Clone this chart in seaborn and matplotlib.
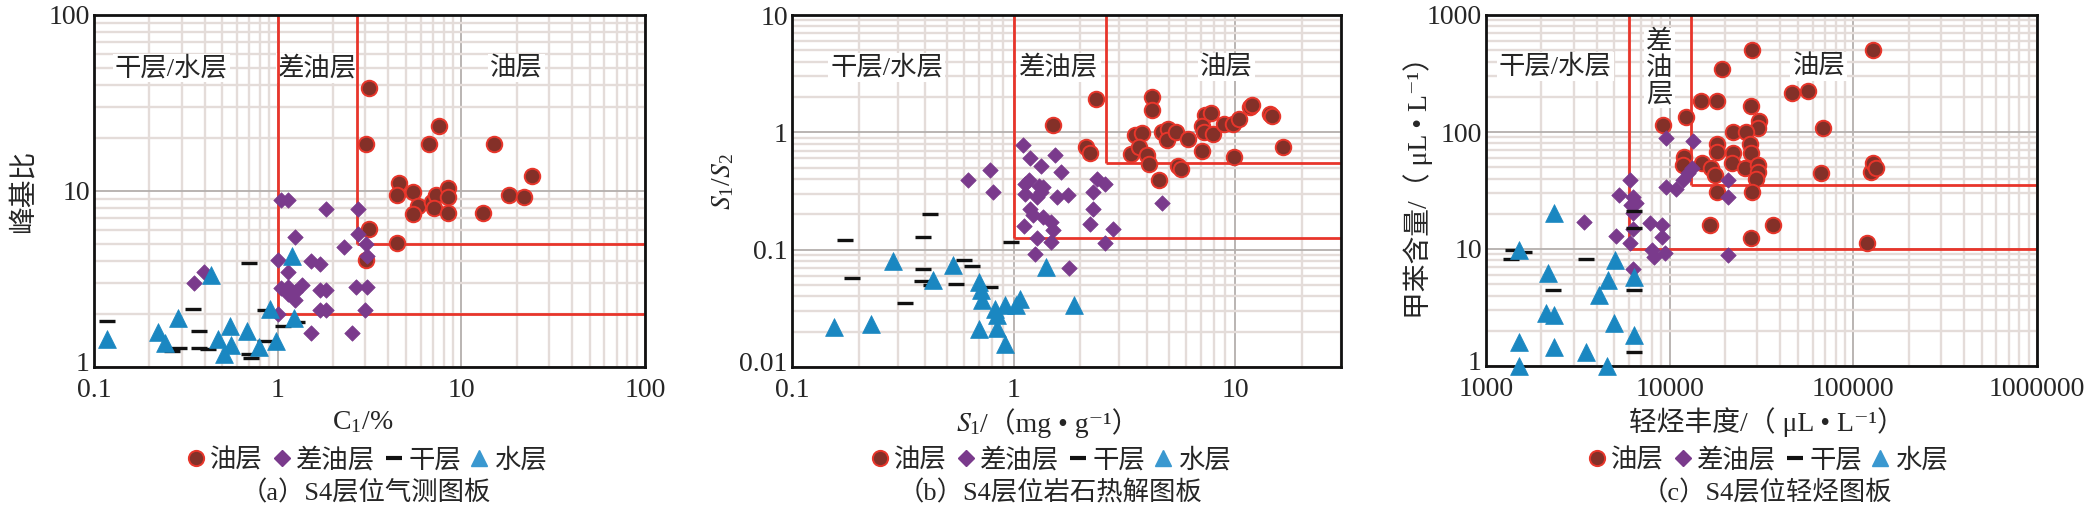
import matplotlib
matplotlib.use("Agg")
import matplotlib.pyplot as plt
from matplotlib.lines import Line2D
from matplotlib.ticker import LogLocator, NullFormatter, FixedLocator, FixedFormatter
from matplotlib.offsetbox import TextArea, HPacker, AnchoredOffsetbox
from matplotlib.transforms import ScaledTranslation
import seaborn as sns
import pandas as pd

# ---- panel (a): gas logging ----
a_oil_x = [3.13, 7.57, 3.04, 6.64, 15.0, 24.2, 4.6, 4.45, 5.43, 5.82, 5.43, 6.96, 7.27, 7.11,
           8.43, 8.43, 8.43, 13.2, 18.2, 21.9, 3.16, 4.45, 3.02]
a_oil_y = [38.6, 23.4, 18.4, 18.4, 18.4, 12.2, 11.1, 9.5, 9.9, 8.2, 7.4, 8.7, 9.5, 7.97,
           10.4, 9.3, 7.47, 7.47, 9.47, 9.27, 6.06, 5.08, 4.04]
a_poor_x = [1.04, 1.14, 1.84, 2.75, 1.24, 2.29, 2.75, 3.03, 3.07, 1.01, 1.51, 1.69, 1.14, 0.35,
            0.396, 1.04, 1.14, 1.24, 1.35, 1.14, 1.69, 1.84, 2.66, 3.07, 1.24, 1.69, 1.84, 2.99,
            1.01, 1.51, 2.55]
a_poor_y = [8.87, 8.87, 7.95, 7.95, 5.49, 4.81, 5.73, 5.03, 4.26, 4.04, 4.0, 3.87, 3.47, 3.0,
            3.47, 2.8, 2.85, 2.67, 2.91, 2.61, 2.73, 2.73, 2.85, 2.85, 2.39, 2.12, 2.12, 2.12,
            2.0, 1.56, 1.56]
a_dry_x = [0.118, 0.70, 0.344, 0.375, 0.266, 0.29, 0.375, 0.42, 0.855, 1.07, 1.27, 0.72, 0.70, 0.855]
a_dry_y = [1.82, 3.92, 2.13, 1.6, 1.23, 1.29, 1.29, 1.27, 2.1, 1.72, 1.8, 1.125, 1.18, 1.4]
a_water_x = [0.118, 0.224, 0.244, 0.287, 0.432, 0.475, 0.513, 0.548, 0.558, 0.68, 0.794, 0.906,
             0.975, 1.2, 1.22]
a_water_y = [1.45, 1.58, 1.36, 1.91, 3.35, 1.45, 1.19, 1.72, 1.33, 1.6, 1.3, 2.13, 1.4, 4.26, 1.91]
a_x_cut = [1.0, 2.7]
a_y_cut = [2.0, 5.0]

# ---- panel (b): rock pyrolysis ----
b_oil_x = [2.36, 4.2, 4.23, 1.5, 2.12, 2.2, 3.53, 3.78, 3.37, 3.68, 4.0, 4.07, 4.55, 4.65, 4.95,
           4.9, 5.4, 6.15, 5.5, 5.7, 7.06, 7.3, 7.75, 7.1, 7.2, 7.9, 8.9, 9.77, 10.4, 9.9, 11.6,
           11.9, 14.3, 14.7, 16.5]
b_oil_y = [1.94, 2.0, 1.54, 1.15, 0.75, 0.667, 0.942, 0.98, 0.657, 0.75, 0.637, 0.54, 0.39, 1.0,
           1.067, 0.86, 1.0, 0.88, 0.52, 0.49, 0.70, 1.4, 1.47, 1.13, 1.0, 0.96, 1.17, 1.18, 1.31,
           0.62, 1.64, 1.7, 1.44, 1.38, 0.75]
b_poor_x = [1.1, 1.18, 1.53, 1.33, 1.64, 0.78, 0.62, 0.81, 1.12, 1.17, 1.3, 1.35, 1.13, 1.27, 1.33,
            1.57, 1.76, 2.38, 2.58, 2.28, 1.19, 1.22, 1.36, 1.47, 1.5, 2.28, 1.11, 2.22, 2.8, 1.27,
            1.47, 2.58, 1.25, 4.65, 1.77]
b_poor_y = [0.774, 0.6, 0.637, 0.52, 0.46, 0.475, 0.39, 0.31, 0.36, 0.39, 0.35, 0.34, 0.30, 0.28,
            0.31, 0.28, 0.29, 0.40, 0.36, 0.31, 0.224, 0.196, 0.19, 0.172, 0.146, 0.22, 0.158,
            0.166, 0.15, 0.126, 0.117, 0.114, 0.092, 0.25, 0.07]
b_dry_x = [0.173, 0.42, 0.39, 0.186, 0.324, 0.39, 0.384, 0.425, 0.55, 0.6, 0.65, 0.78, 0.97]
b_dry_y = [0.12, 0.2, 0.128, 0.057, 0.035, 0.068, 0.054, 0.05, 0.051, 0.081, 0.073, 0.048, 0.116]
b_water_x = [0.155, 0.227, 0.286, 0.432, 0.53, 0.70, 0.71, 0.72, 0.82, 0.84, 0.91, 1.07, 1.03,
             0.70, 0.84, 0.91, 1.4, 1.87]
b_water_y = [0.022, 0.0234, 0.08, 0.0556, 0.074, 0.053, 0.0456, 0.037, 0.031, 0.0275, 0.034,
             0.038, 0.034, 0.021, 0.0215, 0.0158, 0.071, 0.0335]
b_x_cut = [1.0, 2.6]
b_y_cut = [0.126, 0.55]

# ---- panel (c): light hydrocarbon ----
c_oil_x = [28000, 128600, 19300, 14800, 18200, 46400, 56500, 27700, 9250, 12300, 30500, 30200,
           22200, 26200, 68700, 27300, 18200, 18100, 22200, 21800, 27700, 11900, 11800, 15000,
           16700, 17700, 25800, 30200, 30200, 29600, 18200, 28000, 66800, 125000, 127400, 133000,
           16600, 36500, 27700, 119000]
c_oil_y = [502, 502, 343, 185, 185, 214, 226, 167, 115, 135, 123, 109, 100.6, 100.6, 109, 79, 79,
           68, 65.7, 54, 65.7, 61.5, 52.3, 54, 48.9, 42.9, 48.9, 52.3, 45.7, 39.7, 30.9, 30.9,
           44.3, 45.7, 54, 48.9, 16, 16, 12.3, 11.3]
c_poor_x = [9500, 13400, 9500, 10800, 11800, 12650, 13150, 20800, 20700, 6080, 5280, 6350, 6180,
            6530, 6350, 3430, 7860, 9140, 9140, 5130, 6080, 6350, 8040, 9400, 8200, 20700, 6350]
c_poor_y = [88, 83.7, 34.1, 32.4, 38.9, 44.3, 48.9, 38.9, 27.7, 38.9, 29, 28.1, 23.8, 24.7, 20.2,
            17.1, 16.6, 16, 12.7, 12.8, 11.2, 14.9, 9.8, 9.2, 8.6, 8.9, 6.7]
c_dry_x = [1360, 1400, 1610, 3490, 2320, 6420, 6420, 6420, 6420]
c_dry_y = [8.2, 9.9, 9.4, 8.2, 4.5, 21.3, 15, 4.5, 1.33]
c_water_x = [2360, 1520, 2170, 2130, 2360, 1520, 1520, 2360, 3490, 4540, 5030, 4610, 4100, 5000,
             6420, 6420]
c_water_y = [20.2, 9.9, 6.2, 2.82, 2.73, 1.59, 1.0, 1.46, 1.33, 1.0, 8.05, 5.43, 4.04, 2.32, 5.8, 1.84]
c_x_cut = [6000, 13000]
c_y_cut = [10, 35]

classes = ["油层", "差油层", "干层", "水层"]

OIL_FACE = "#843028"
OIL_EDGE = "#e8362b"
POOR = "#7a3a8c"
WATER = "#1a87c1"
RED = "#e8352b"

sns.set_style("white")
plt.rcParams["font.family"] = ["Liberation Serif", "Noto Sans CJK SC", "DejaVu Serif"]
plt.rcParams["mathtext.fontset"] = "stix"
plt.rcParams["axes.unicode_minus"] = False

W, H = 2099, 516
fig = plt.figure(figsize=(W / 100, H / 100), dpi=100)


def px_axes(left, right, top, bottom):
    return fig.add_axes([left / W, (H - bottom) / H, (right - left) / W, (bottom - top) / H])


def make_df(xs, ys):
    frames = []
    for name, (x, y) in zip(classes, zip(xs, ys)):
        frames.append(pd.DataFrame({"x": x, "y": y, "cls": name}))
    return pd.concat(frames, ignore_index=True)


def draw_panel(ax, df, xlim, ylim, xticks, xlabels, yticks, ylabels, x_cut, y_cut):
    ax.set_xscale("log")
    ax.set_yscale("log")
    ax.set_xlim(*xlim)
    ax.set_ylim(*ylim)
    ax.set_axisbelow(True)

    for axis, ticks, labels in [(ax.xaxis, xticks, xlabels), (ax.yaxis, yticks, ylabels)]:
        axis.set_major_locator(FixedLocator(ticks))
        axis.set_major_formatter(FixedFormatter(labels))
        axis.set_minor_locator(LogLocator(base=10, subs=range(2, 10), numticks=20))
        axis.set_minor_formatter(NullFormatter())
    ax.grid(which="minor", color="#e4dcd9", lw=1.7, zorder=0)
    ax.grid(which="major", color="#b4afad", lw=1.3, zorder=0)
    ax.tick_params(which="both", length=0, labelsize=20)
    ax.tick_params(axis="x", pad=8)
    ax.tick_params(axis="y", pad=3)
    for sp in ax.spines.values():
        sp.set_color("#111111")
        sp.set_linewidth(2.0)

    # boundary lines
    ax.vlines(x_cut[0], y_cut[0], ylim[1], color=RED, lw=2.0, zorder=2)
    ax.hlines(y_cut[0], x_cut[0], xlim[1], color=RED, lw=2.0, zorder=2)
    ax.vlines(x_cut[1], y_cut[1], ylim[1], color=RED, lw=2.0, zorder=2)
    ax.hlines(y_cut[1], x_cut[1], xlim[1], color=RED, lw=2.0, zorder=2)

    d = df[df.cls == "油层"]
    sns.scatterplot(data=d, x="x", y="y", ax=ax, marker="o", s=125, color=OIL_FACE,
                    edgecolor=OIL_EDGE, linewidth=1.4, zorder=3, clip_on=False, legend=False)
    d = df[df.cls == "差油层"]
    sns.scatterplot(data=d, x="x", y="y", ax=ax, marker="D", s=62, color=POOR,
                    edgecolor=POOR, linewidth=0.5, zorder=4, clip_on=False, legend=False)
    d = df[df.cls == "干层"]
    sns.scatterplot(data=d, x="x", y="y", ax=ax, marker="_", s=144, color="#111111",
                    linewidth=2.4, zorder=5, clip_on=False, legend=False)
    d = df[df.cls == "水层"]
    sns.scatterplot(data=d, x="x", y="y", ax=ax, marker="^", s=165, color=WATER,
                    edgecolor=WATER, linewidth=0.5, zorder=6, clip_on=False, legend=False)
    ax.set_xlabel("")
    ax.set_ylabel("")

    # lift the lowest y label a little so it clears the first x label in the corner
    low = ax.yaxis.get_major_ticks()[0].label1
    low.set_transform(low.get_transform() + ScaledTranslation(0, 4 / 72, fig.dpi_scale_trans))


def region_text(ax, x, y, s, **kw):
    ax.text(x, y, s, fontsize=19, ha="center", va="center", zorder=1.5,
            bbox=dict(facecolor="white", edgecolor="none", pad=1.5), **kw)


def legend_and_caption(ax, cx, caption):
    handles = [
        Line2D([], [], ls="none", marker="o", ms=11, mfc=OIL_FACE, mec=OIL_EDGE, mew=1.4),
        Line2D([], [], ls="none", marker="D", ms=8, mfc=POOR, mec=POOR),
        Line2D([], [], ls="none", marker="_", ms=11, mec="#111111", mew=3),
        Line2D([], [], ls="none", marker="^", ms=12, mfc="#3a98d0", mec="#3a98d0"),
    ]
    fig.legend(handles, classes, loc="center", bbox_to_anchor=(cx / W, (H - 460) / H),
               ncol=4, frameon=False, fontsize=19, handlelength=0.8, handletextpad=0.15,
               columnspacing=0.3, borderpad=0)
    fig.text(cx / W, (H - 493) / H, caption, fontsize=19, ha="center", va="center")


# panel a
ax_a = px_axes(94, 645, 15, 367)
draw_panel(ax_a, make_df([a_oil_x, a_poor_x, a_dry_x, a_water_x], [a_oil_y, a_poor_y, a_dry_y, a_water_y]),
           (0.1, 100), (1, 100), [0.1, 1, 10, 100], ["0.1", "1", "10", "100"],
           [1, 10, 100], ["1", "10", "100"], a_x_cut, a_y_cut)
region_text(ax_a, 0.263, 50, "干层/水层")
region_text(ax_a, 1.65, 50, "差油层")
region_text(ax_a, 20, 50, "油层")
ax_a.set_ylabel("峰基比", fontsize=20, va="center")
ax_a.yaxis.set_label_coords(-0.127, 0.5)
ax_a.set_xlabel(r"C$_\mathregular{1}$/%", fontsize=20, va="center")
ax_a.xaxis.set_label_coords(0.488, -0.159)
legend_and_caption(ax_a, 366, "（a）S4层位气测图板")

# panel b
ax_b = px_axes(792, 1341, 15, 367)
draw_panel(ax_b, make_df([b_oil_x, b_poor_x, b_dry_x, b_water_x], [b_oil_y, b_poor_y, b_dry_y, b_water_y]),
           (0.1, 30), (0.01, 10), [0.1, 1, 10], ["0.1", "1", "10"],
           [0.01, 0.1, 1, 10], ["0.01", "0.1", "1", "10"], b_x_cut, b_y_cut)
region_text(ax_b, 0.267, 3.6, "干层/水层")
region_text(ax_b, 1.6, 3.6, "差油层")
region_text(ax_b, 9.1, 3.6, "油层")
ax_b.set_ylabel(r"$S_\mathregular{1}$/$S_\mathregular{2}$", fontsize=20, va="center")
ax_b.yaxis.set_label_coords(-0.124, 0.526)
# x label: italic S1 (mathtext) followed by plain text with CJK brackets
xl_parts = HPacker(children=[TextArea(r"$S_\mathregular{1}$", textprops=dict(fontsize=20)),
                             TextArea("/（mg • g⁻¹）", textprops=dict(fontsize=20))],
                   align="baseline", pad=0, sep=0)
ax_b.add_artist(AnchoredOffsetbox(loc="center", child=xl_parts, pad=0, borderpad=0, frameon=False,
                                  bbox_to_anchor=(0.466, -0.159), bbox_transform=ax_b.transAxes))
legend_and_caption(ax_b, 1050, "（b）S4层位岩石热解图板")

# panel c
ax_c = px_axes(1486, 2037, 15, 366)
draw_panel(ax_c, make_df([c_oil_x, c_poor_x, c_dry_x, c_water_x], [c_oil_y, c_poor_y, c_dry_y, c_water_y]),
           (1000, 1e6), (1, 1000), [1000, 10000, 100000, 1000000], ["1000", "10000", "100000", "1000000"],
           [1, 10, 100, 1000], ["1", "10", "100", "1000"], c_x_cut, c_y_cut)
region_text(ax_c, 2380, 362, "干层/水层")
region_text(ax_c, 8790, 350, "差\n油\n层", linespacing=1.15)
region_text(ax_c, 65000, 362, "油层")
ax_c.set_ylabel("甲苯含量/（ μL • L⁻¹）", fontsize=20, va="center")
ax_c.yaxis.set_label_coords(-0.123, 0.528)
ax_c.set_xlabel("轻烃丰度/（ μL • L⁻¹）", fontsize=20, va="center")
ax_c.xaxis.set_label_coords(0.51, -0.159)
legend_and_caption(ax_c, 1767, "（c）S4层位轻烃图板")

fig.savefig("out.png", dpi=100, facecolor="white")
